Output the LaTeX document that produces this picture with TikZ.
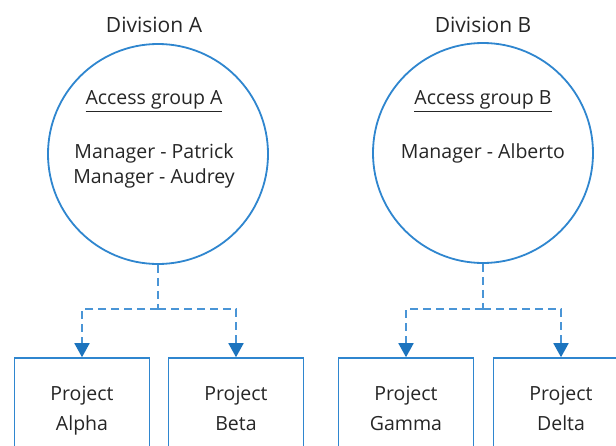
\documentclass[tikz,border=0pt]{standalone}
\usepackage{fontspec}
\setmainfont{Open Sans}
\usetikzlibrary{arrows.meta}
\definecolor{lineblue}{HTML}{2F86CF}
\definecolor{dashblue}{HTML}{4A95D6}
\definecolor{tipblue}{HTML}{1C74BE}
\definecolor{txt}{HTML}{262626}
\tikzset{
  x=1pt,y=-1pt,
  divcircle/.style={circle,draw=lineblue,line width=1.8pt,minimum size=220pt,inner sep=0pt},
  projbox/.style={rectangle,draw=lineblue,line width=1.6pt,minimum width=135pt,minimum height=110pt,align=center,text=txt,font=\fontsize{19.5}{30}\selectfont},
  lbl/.style={text=txt,font=\fontsize{19.5}{25}\selectfont,inner sep=0pt,align=center},
  ttl/.style={text=txt,font=\fontsize{21}{25}\selectfont,inner sep=0pt,align=center},
  conn/.style={draw=dashblue,line width=1.8pt,dash pattern=on 8pt off 5pt},
  tip/.style={-{Triangle[length=14pt,width=15pt,fill=tipblue,color=tipblue]}}
}
\begin{document}
\begin{tikzpicture}
\clip (0,0) rectangle (616,445);
\fill[white] (0,0) rectangle (616,445);
% circles
\node[divcircle] (ca) at (158,154) {};
\node[divcircle] (cb) at (483,153) {};
% titles
\node[ttl] (ta) at (154,25) {Division A};
\node[ttl] (tb) at (483,25) {Division B};
% circle contents
\node[lbl] (ga) at (154,101) {\underline{Access group A}};
\node[lbl] (ma) at (154,166) {Manager - Patrick\\Manager - Audrey};
\node[lbl] (gb) at (483,101) {\underline{Access group B}};
\node[lbl] (mb) at (483,153) {Manager - Alberto};
% boxes
\node[projbox] (alpha) at (82,413) {Project\\Alpha\strut};
\node[projbox] (beta) at (236,413) {Project\\Beta\strut};
\node[projbox] (gamma) at (406,413) {Project\\Gamma\strut};
\node[projbox] (delta) at (561,413) {Project\\Delta\strut};
% connectors
\coordinate (ja) at (158,309);
\coordinate (jb) at (483,309);
\draw[conn] (ca.south) -- (ja);
\draw[conn,tip] (ja) -| (alpha.north);
\draw[conn,tip] (ja) -| (beta.north);
\draw[conn] (cb.south) -- (jb);
\draw[conn,tip] (jb) -| (gamma.north);
\draw[conn,tip] (jb) -| (delta.north);
\end{tikzpicture}
\end{document}
